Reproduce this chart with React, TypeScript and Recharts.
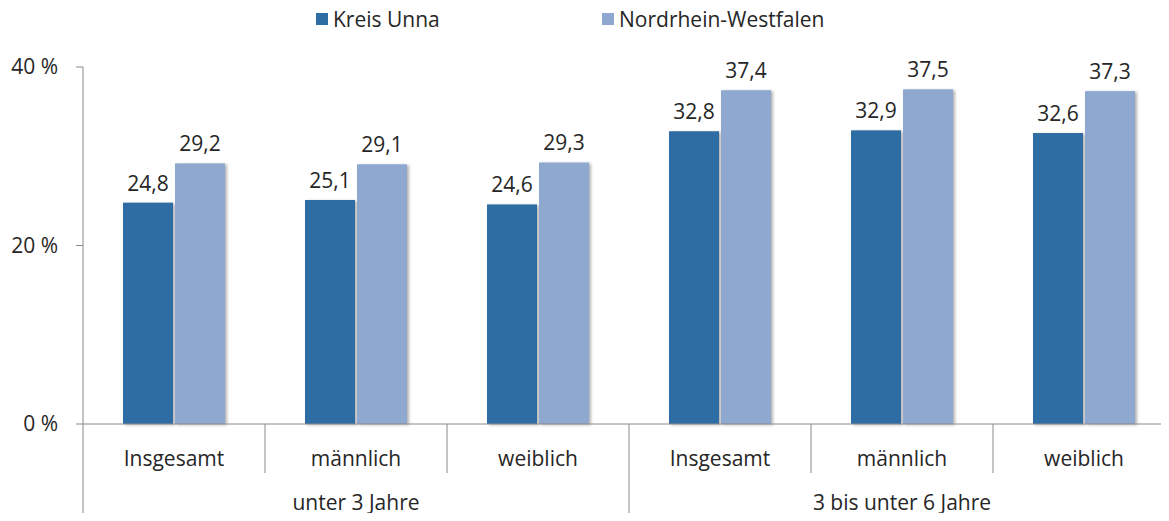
import { BarChart, Bar, XAxis, YAxis, LabelList, Legend } from 'recharts'

const categories = ['Insgesamt', 'männlich', 'weiblich', 'Insgesamt', 'männlich', 'weiblich']
const ageGroups = ['unter 3 Jahre', '3 bis unter 6 Jahre']
const kreisUnna = [24.8, 25.1, 24.6, 32.8, 32.9, 32.6]
const nordrheinWestfalen = [29.2, 29.1, 29.3, 37.4, 37.5, 37.3]
const yTicks = [0, 20, 40]

const data = categories.map((_, i) => ({
  key: String(i),
  kreis: kreisUnna[i],
  nrw: nordrheinWestfalen[i],
}))

const W = 1175
const H = 521
const AXIS_W = 83
const LEGEND_H = 30
const BAND = (W - AXIS_W) / categories.length
const AXIS_COLOR = '#8a8a8a'
const TEXT_COLOR = '#262626'
const DARK = '#2e6ca4'
const LIGHT = '#8ea8d0'
const FONT = 21

const fmt = (v: number) => v.toFixed(1).replace('.', ',')

const CategoryTick = (props: any) => {
  const { x, y, payload } = props
  const i = Number(payload.value)
  const half = BAND / 2
  const groupStart = i % 3 === 0
  return (
    <g>
      <line x1={x - half} x2={x - half} y1={y} y2={groupStart ? H : y + 49} stroke={AXIS_COLOR} />
      {i === categories.length - 1 && (
        <line x1={x + half} x2={x + half} y1={y} y2={H} stroke={AXIS_COLOR} />
      )}
      <text x={x} y={y + 42} textAnchor="middle" fill={TEXT_COLOR} fontSize={FONT}>
        {categories[i]}
      </text>
      {i % 3 === 1 && (
        <text x={x} y={y + 86} textAnchor="middle" fill={TEXT_COLOR} fontSize={FONT}>
          {ageGroups[Math.floor(i / 3)]}
        </text>
      )}
    </g>
  )
}

const ShadowBar = (props: any) => {
  const { x, y, width, height, fill } = props
  return (
    <rect
      x={x}
      y={y}
      width={width}
      height={height}
      fill={fill}
      style={{ filter: 'drop-shadow(2px 1px 1.5px rgba(0,0,0,0.3))' }}
    />
  )
}

const TopLegend = () => (
  <div style={{ position: 'relative', height: LEGEND_H, fontSize: FONT, color: TEXT_COLOR }}>
    <div style={{ position: 'absolute', left: 316, top: 0, display: 'flex', alignItems: 'center' }}>
      <span style={{ width: 12, height: 12, background: DARK, marginRight: 5 }} />
      Kreis Unna
    </div>
    <div style={{ position: 'absolute', left: 602, top: 0, display: 'flex', alignItems: 'center' }}>
      <span style={{ width: 12, height: 12, background: LIGHT, marginRight: 5 }} />
      Nordrhein-Westfalen
    </div>
  </div>
)

export default function App() {
  return (
    <div
      style={{
        margin: -8,
        width: 1169,
        height: H,
        overflow: 'hidden',
        background: '#fff',
        fontFamily: '"Open Sans", sans-serif',
      }}
    >
      <BarChart
        width={W}
        height={H}
        data={data}
        margin={{ top: 67 - LEGEND_H, right: 0, bottom: 0, left: 0 }}
        barGap={2}
        barSize={50}
      >
        <Legend
          verticalAlign="top"
          height={LEGEND_H}
          content={<TopLegend />}
          wrapperStyle={{ top: 5, left: 0, width: W }}
        />
        <YAxis
          width={AXIS_W}
          domain={[0, 40]}
          ticks={yTicks}
          tickFormatter={(v: number) => `${v} %`}
          tick={{ fill: TEXT_COLOR, fontSize: FONT }}
          tickSize={7}
          tickMargin={18}
          stroke={AXIS_COLOR}
        />
        <XAxis
          dataKey="key"
          height={H - 424}
          tick={<CategoryTick />}
          tickLine={false}
          tickSize={0}
          tickMargin={0}
          interval={0}
          stroke={AXIS_COLOR}
        />
        <Bar dataKey="kreis" name="Kreis Unna" fill={DARK} shape={<ShadowBar />} isAnimationActive={false}>
          <LabelList dataKey="kreis" position="top" offset={12} formatter={fmt} fill={TEXT_COLOR} fontSize={FONT} />
        </Bar>
        <Bar dataKey="nrw" name="Nordrhein-Westfalen" fill={LIGHT} shape={<ShadowBar />} isAnimationActive={false}>
          <LabelList dataKey="nrw" position="top" offset={12} formatter={fmt} fill={TEXT_COLOR} fontSize={FONT} />
        </Bar>
      </BarChart>
    </div>
  )
}
